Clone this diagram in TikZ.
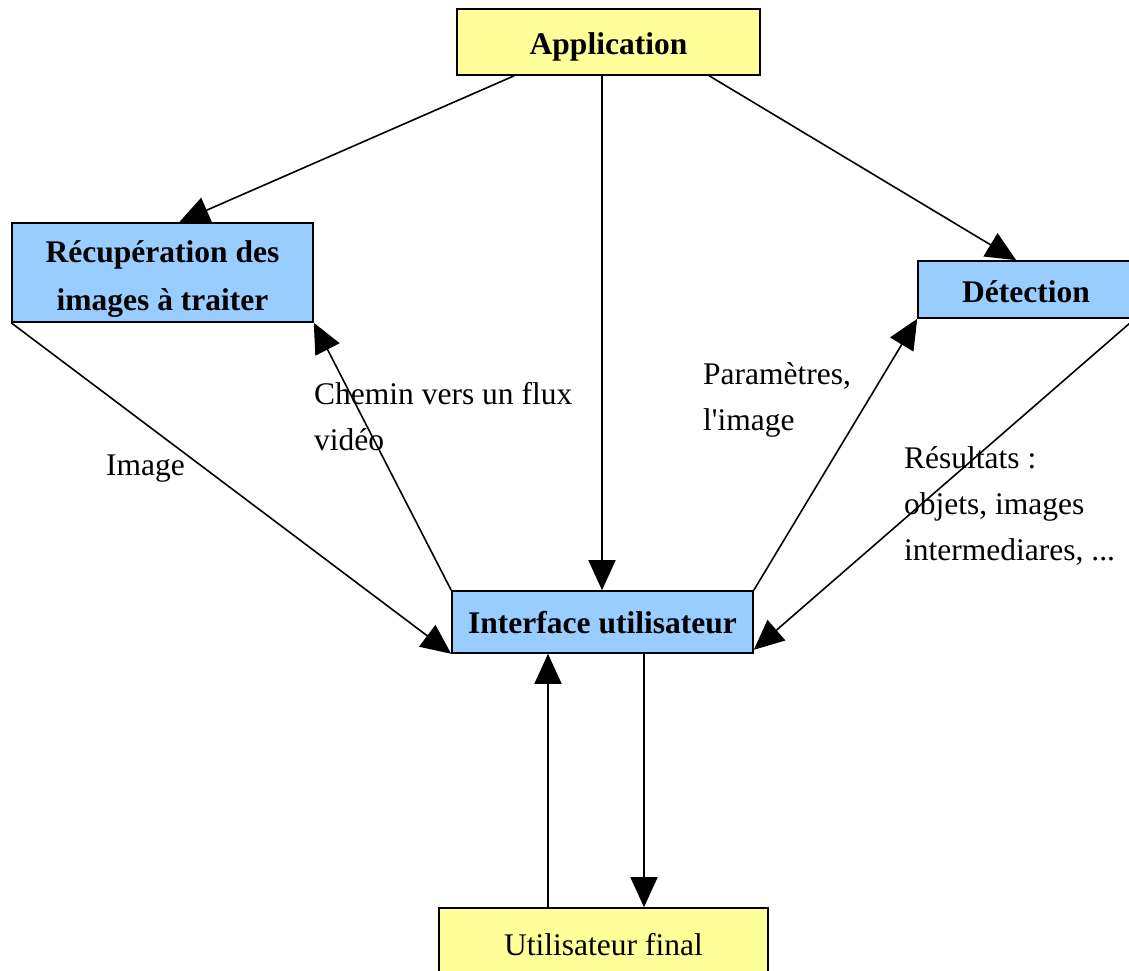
\documentclass[tikz,border=0pt]{standalone}
\usepackage{fontspec}
\setmainfont{Liberation Serif}
\usetikzlibrary{arrows.meta}
\definecolor{boxyellow}{HTML}{FFFF99}
\definecolor{boxblue}{HTML}{99CCFF}
\begin{document}
\begin{tikzpicture}[x=1pt,y=-1pt,
  font=\fontsize{31.5}{46}\selectfont,
  box/.style={draw=black, line width=1.6pt, inner sep=0pt, align=center, text depth=0pt},
  yellowbox/.style={box, fill=boxyellow},
  bluebox/.style={box, fill=boxblue},
  flow/.style={line width=1.6pt, -{Triangle[length=30pt,width=27pt]}},
  label/.style={inner sep=0pt, anchor=base west, align=left}]
\useasboundingbox (0,0) rectangle (1129,971);

% blocks
\node[yellowbox, minimum width=303pt, minimum height=66pt, text height=26pt] (app) at (608.5,42) {\bfseries Application};
\node[bluebox, minimum width=301pt, minimum height=99pt, text height=75pt,
      font=\fontsize{31.5}{48}\selectfont] (rec) at (162.5,272.5) {\bfseries Récupération des\\\bfseries images à traiter};
\node[bluebox, minimum width=216pt, minimum height=57pt, text height=25pt] (det) at (1026,289.5) {\bfseries Détection};
\node[bluebox, minimum width=301pt, minimum height=62pt, text height=22pt] (ui) at (602.5,622) {\bfseries Interface utilisateur};
\node[yellowbox, minimum width=329pt, minimum height=74pt, text height=20pt] (usr) at (603.5,945) {Utilisateur final};

% connectors from the application
\draw[flow] ([xshift=58pt]app.south west) -- ([xshift=168pt]rec.north west);
\draw[flow] ([xshift=-0.5pt]ui.north |- app.south) -- ([xshift=-0.5pt]ui.north);
\draw[flow] ([xshift=253pt]app.south west) -- ([xshift=99pt]det.north west);

% exchanges with the user interface
\draw[flow] (rec.south west) -- (ui.south west);
\draw[flow] (ui.north west) -- (rec.south east);
\draw[flow] (ui.north east) -- (det.south west);
\draw[flow] (det.south east) -- ([yshift=4pt]ui.south east);

% end user
\draw[flow] ([xshift=-55.5pt]usr.north) -- ([xshift=-55.5pt]usr.north |- ui.south);
\draw[flow] ([xshift=40.5pt]usr.north |- ui.south) -- ([xshift=40.5pt]usr.north);

% connector labels (anchored on the baseline of their last line)
\node[label] (limg) at (106,475) {Image};
\node[label] (lchem) at (314,450) {Chemin vers un flux\\vidéo};
\node[label] (lpar) at (703,430) {Paramètres,\\l\textquotesingle image};
\node[label] (lres) at (904,560) {Résultats :\\objets, images\\intermediares, ...};
\end{tikzpicture}
\end{document}
